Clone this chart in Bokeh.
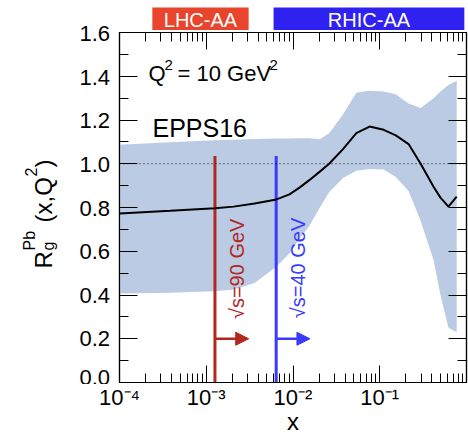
import math
from bokeh.plotting import figure
from bokeh.layouts import row, column
from bokeh.models import (FixedTicker, LinearAxis, LogAxis, Span, Label, Arrow,
                          NormalHead, PrintfTickFormatter, Range1d)
from bokeh.core.properties import value
from bokeh.embed import file_html
from bokeh.resources import INLINE

# ---------------- data ----------------
x_vals = [1.0e-4, 3.84e-4, 1.26e-3, 2.07e-3, 3.61e-3, 6.46e-3, 9.1e-3, 1.20e-2,
          1.54e-2, 2.04e-2, 2.61e-2, 3.77e-2, 5.37e-2, 7.63e-2, 0.111, 0.153,
          0.215, 0.296, 0.417, 0.501, 0.619, 0.771]
central = [0.773, 0.785, 0.797, 0.804, 0.818, 0.837, 0.860, 0.892,
           0.925, 0.964, 1.000, 1.067, 1.140, 1.170, 1.155, 1.130,
           1.090, 1.000, 0.895, 0.845, 0.804, 0.850]
upper = [1.087, 1.098, 1.107, 1.110, 1.113, 1.115, 1.116, 1.117,
         1.117, 1.112, 1.140, 1.225, 1.325, 1.334, 1.330, 1.318,
         1.275, 1.255, 1.300, 1.330, 1.360, 1.380]
lower = [0.407, 0.410, 0.417, 0.425, 0.455, 0.530, 0.590, 0.660,
         0.715, 0.800, 0.870, 0.935, 0.968, 0.976, 0.974, 0.940,
         0.875, 0.740, 0.560, 0.400, 0.250, 0.230]

lhc_x = 1.26e-3          # sqrt(s)=90 GeV line
rhic_x = 6.4e-3          # sqrt(s)=40 GeV line
line_top = 1.035
arrow_y = 0.2
arrow_factor = 2.45
lhc_range = [2.39e-4, 3.08e-3]
rhic_range = [5.97e-3, 0.944]
ranges_labels = ["LHC-AA", "RHIC-AA"]

y_ticks = [0.0, 0.2, 0.4, 0.6, 0.8, 1.0, 1.2, 1.4, 1.6]
y_minor = [0.1, 0.3, 0.5, 0.7, 0.9, 1.1, 1.3, 1.5]
x_ticks = [1e-4, 1e-3, 1e-2, 1e-1, 1.0]
x_tick_labels = ["10\u207b\u2074", "10\u207b\u00b3", "10\u207b\u00b2", "10\u207b\u00b9", " "]
x_minor = [k * 10.0 ** e for e in range(-4, 0) for k in range(2, 10)]

RED = "#B2281F"
BLUE = "#3A3AFF"
BAND = "#BACBE3"
LHC_BOX = "#E8452C"
RHIC_BOX = "#2F22F0"
FONT = "Liberation Sans"

TOTAL_W = 468
LEFT_W = 117
MAIN_W = TOTAL_W - LEFT_W
TOP_H = 30
FRAME_TOP = 33      # frame top in page pixels
FRAME_BOTTOM = 382  # frame bottom in page pixels
MAIN_H = FRAME_BOTTOM + 2 - TOP_H
BOTTOM_H = 437 - (TOP_H + MAIN_H)

# ---------------- main plot ----------------
p = figure(width=MAIN_W, height=MAIN_H, x_axis_type="log", x_range=(1e-4, 1.0),
           y_range=(0, 1.6), output_backend="svg", toolbar_location=None,
           min_border_left=2, min_border_right=2, min_border_top=2, min_border_bottom=2)
p.grid.visible = False
p.outline_line_color = "black"
p.outline_line_width = 1.2
p.background_fill_color = "white"
p.border_fill_color = "white"

xt = FixedTicker(ticks=x_ticks, minor_ticks=x_minor)
yt = FixedTicker(ticks=y_ticks, minor_ticks=y_minor)

def style_axis(ax, major, minor, labels=True):
    ax.major_tick_in = major
    ax.major_tick_out = 0
    ax.minor_tick_in = minor
    ax.minor_tick_out = 0
    ax.axis_line_color = "black"
    ax.axis_line_width = 1.2
    ax.major_tick_line_color = "black"
    ax.minor_tick_line_color = "black"
    ax.major_tick_line_width = 1
    ax.minor_tick_line_width = 1
    if not labels:
        ax.major_label_text_font_size = "1px"
        ax.major_label_text_alpha = 0
        ax.major_label_standoff = 0

bx = p.xaxis[0]
bx.ticker = xt
style_axis(bx, 17, 9, labels=False)
ly = p.yaxis[0]
ly.ticker = yt
style_axis(ly, 18, 9, labels=False)
ry = LinearAxis(ticker=yt)
style_axis(ry, 18, 9, labels=False)
p.add_layout(ry, "right")
tx = LogAxis(ticker=xt)
style_axis(tx, 17, 9, labels=False)
p.add_layout(tx, "above")

p.varea(x=x_vals, y1=lower, y2=upper, fill_color=BAND, fill_alpha=1.0)
p.add_layout(Span(location=1.0, dimension="width", line_color="black",
                  line_width=1, line_dash="1 3"))
p.segment(x0=[lhc_x], y0=[0], x1=[lhc_x], y1=[line_top], line_color=RED, line_width=3)
p.segment(x0=[rhic_x], y0=[0], x1=[rhic_x], y1=[line_top], line_color=BLUE, line_width=3)
p.line(x_vals, central, line_color="black", line_width=2)

for xx, col in [(lhc_x, RED), (rhic_x, BLUE)]:
    p.add_layout(Arrow(x_start=xx, y_start=arrow_y, x_end=xx * arrow_factor, y_end=arrow_y,
                       line_color=col, line_width=2.5,
                       end=NormalHead(size=13, fill_color=col, line_color=col)))

p.add_layout(Label(x=lhc_x, y=0.29, x_offset=22, angle=math.pi / 2, text="\u221as=90 GeV",
                   text_font=FONT, text_font_size="20px", text_color=RED,
                   text_align="left", text_baseline="alphabetic"))
p.add_layout(Label(x=rhic_x, y=0.294, x_offset=22, angle=math.pi / 2, text="\u221as=40 GeV",
                   text_font=FONT, text_font_size="20px", text_color=BLUE,
                   text_align="left", text_baseline="alphabetic"))

def plabel(fig, fx, txt, px, py, size, angle=0.0):
    # screen units are relative to the figure frame's lower-left corner
    fig.add_layout(Label(x=px - fx, y=FRAME_BOTTOM - py, x_units="screen", y_units="screen",
                         text=txt, text_font=FONT, text_font_size=size, text_color="black",
                         angle=angle, text_align="left", text_baseline="alphabetic"))

plabel(p, 119, "Q", 148, 73, "22px")
plabel(p, 119, "2", 164, 64, "15px")
plabel(p, 119, "= 10 GeV", 177, 73, "22px")
plabel(p, 119, "2", 269, 64, "15px")
plabel(p, 119, "EPPS16", 152, 127, "25px")

# ---------------- top strip with the kinematic coverage boxes ----------------
top = figure(width=MAIN_W, height=TOP_H, x_axis_type="log", x_range=p.x_range,
             y_range=Range1d(TOP_H, 0), output_backend="svg", toolbar_location=None,
             min_border_left=2, min_border_right=2, min_border_top=0, min_border_bottom=0,
             x_axis_location=None, y_axis_location=None)
top.grid.visible = False
top.outline_line_color = None
top.quad(left=[lhc_range[0], rhic_range[0]], right=[lhc_range[1], rhic_range[1]],
         top=[7, 7], bottom=[TOP_H, TOP_H], fill_color=[LHC_BOX, RHIC_BOX], line_color=None)
top.text(x=[math.sqrt(lhc_range[0] * lhc_range[1]), math.sqrt(rhic_range[0] * rhic_range[1])],
         y=[19, 19], text=ranges_labels, text_color="white", text_font=value(FONT),
         text_font_size="20px", text_align="center", text_baseline="middle")

# ---------------- left strip: y tick labels (shared y range) and y-axis title ----------------
left = figure(width=LEFT_W, height=TOP_H + MAIN_H, x_range=Range1d(0, 1), y_range=p.y_range,
              output_backend="svg", toolbar_location=None,
              min_border_left=0, min_border_right=42, min_border_top=FRAME_TOP,
              min_border_bottom=TOP_H + MAIN_H - FRAME_BOTTOM,
              x_axis_location=None, y_axis_location="right")
left.grid.visible = False
left.outline_line_color = None
la = left.yaxis[0]
la.ticker = yt
la.formatter = PrintfTickFormatter(format="%.1f")
la.major_label_text_font = FONT
la.major_label_text_font_size = "22px"
la.major_label_text_color = "black"
la.major_label_standoff = 4
la.axis_line_color = None
la.major_tick_line_color = None
la.minor_tick_line_color = None
la.major_tick_in = 0
la.major_tick_out = 0
la.minor_tick_in = 0
la.minor_tick_out = 0

r = math.pi / 2
for txt, px, py, size in [("R", 43, 268, "24px"), ("Pb", 29, 250, "16px"), ("g", 48, 250, "16px"),
                          ("(x,Q", 43, 222, "24px"), ("2", 30, 176, "16px"), (")", 43, 167, "24px")]:
    plabel(left, 0, txt, px, py, size, angle=r)

# ---------------- bottom strip: x tick labels (shared x range) and x-axis title ----------------
bottom = figure(width=TOTAL_W, height=BOTTOM_H, x_axis_type="log", x_range=p.x_range,
                y_range=Range1d(0, 1), output_backend="svg", toolbar_location=None,
                min_border_left=119, min_border_right=2, min_border_top=0,
                min_border_bottom=BOTTOM_H - 5, y_axis_location=None, x_axis_location="below")
bottom.grid.visible = False
bottom.outline_line_color = None
ba = bottom.xaxis[0]
ba.ticker = xt
ba.major_label_overrides = {t: s for t, s in zip(x_ticks, x_tick_labels)}
ba.major_label_text_font = FONT
ba.major_label_text_font_size = "22px"
ba.major_label_text_color = "black"
ba.major_label_standoff = 0
ba.axis_line_color = None
ba.major_tick_line_color = None
ba.minor_tick_line_color = None
ba.major_tick_in = 0
ba.major_tick_out = 0
ba.minor_tick_in = 0
ba.minor_tick_out = 0
ba.axis_label = "x"
ba.axis_label_text_font = FONT
ba.axis_label_text_font_size = "24px"
ba.axis_label_text_font_style = "normal"
ba.axis_label_text_color = "black"
ba.axis_label_standoff = -5

layout = column(row(left, column(top, p)), bottom)
open("out.html", "w").write(file_html(layout, INLINE))
